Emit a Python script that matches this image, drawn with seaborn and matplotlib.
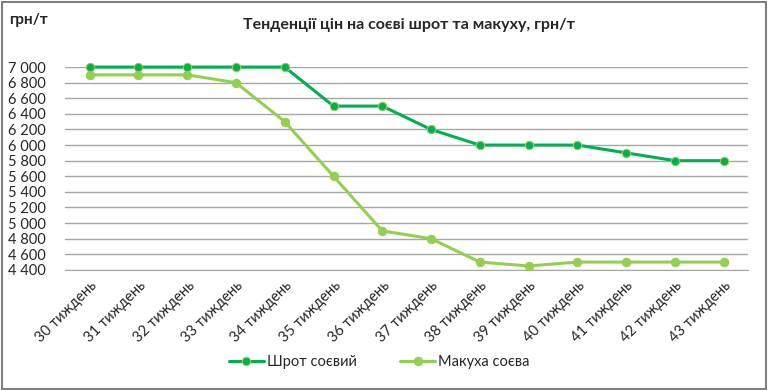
import numpy as np
import pandas as pd
import matplotlib.pyplot as plt
import seaborn as sns
from matplotlib.ticker import FuncFormatter

weeks = [f"{w} тиждень" for w in range(30, 44)]
shrot = [7000, 7000, 7000, 7000, 7000, 6500, 6500, 6200, 6000, 6000, 6000, 5900, 5800, 5800]
makukha = [6900, 6900, 6900, 6800, 6300, 5600, 4900, 4800, 4500, 4450, 4500, 4500, 4500, 4500]
series_names = ["Шрот соєвий", "Макуха соєва"]
yticks = list(range(4400, 7001, 200))

df = pd.DataFrame({
    "week": weeks * 2,
    "price": shrot + makukha,
    "series": [series_names[0]] * len(weeks) + [series_names[1]] * len(weeks),
})

sns.set_style("white")
plt.rcParams['font.family'] = ['Lato', 'DejaVu Sans']

fig = plt.figure(figsize=(7.68, 3.9), dpi=100)
ax = fig.add_axes([0.085, 0.308, 0.889, 0.52])

colors = {"Шрот соєвий": "#00B050", "Макуха соєва": "#92D050"}
zorders = {"Шрот соєвий": 4, "Макуха соєва": 3}
for name in series_names:
    sub = df[df.series == name]
    sns.lineplot(data=sub, x="week", y="price", ax=ax, color=colors[name],
                 linewidth=2.2, marker="o", markersize=6,
                 markerfacecolor=colors[name], markeredgecolor="#92D050",
                 markeredgewidth=0.8, label=name, sort=False, zorder=zorders[name])
for ln in ax.get_lines():
    ln.set_clip_on(False)

ax.set_xlim(-0.5, len(weeks) - 0.5)
ax.set_ylim(4400, 7000)
ax.set_yticks(yticks)
ax.yaxis.set_major_formatter(FuncFormatter(lambda v, p: f"{int(v):,}".replace(",", " ")))
ax.grid(axis="y", color="#a6a6a6", linewidth=1)
ax.set_axisbelow(True)
for s in ["top", "right", "left"]:
    ax.spines[s].set_visible(False)
ax.spines["bottom"].set_color("#a6a6a6")
ax.tick_params(axis="y", length=0, labelsize=10.5, pad=14)
ax.tick_params(axis="x", length=0, labelsize=10.5, pad=6)
ax.set_xticks(range(len(weeks)))
ax.set_xticklabels(weeks, rotation=45, ha="right", rotation_mode="anchor")
ax.set_xlabel("")
ax.set_ylabel("")

ax.legend(loc="center", bbox_to_anchor=(0.46, -0.453), ncol=2, frameon=False,
          fontsize=10.5, handlelength=2.4, columnspacing=3.0, handletextpad=0.2)

fig.text(0.533, 0.936, "Тенденції цін на соєві шрот та макуху, грн/т",
         ha="center", va="center", fontsize=11.5, fontweight="bold")
fig.text(0.012, 0.949, "грн/т", ha="left", va="center", fontsize=11, fontweight="bold")

border = plt.Rectangle((0.002, 0.003), 0.995, 0.993, transform=fig.transFigure,
                       fill=False, edgecolor="#7f7f7f", linewidth=1.5)
fig.patches.append(border)

fig.savefig("out.png", dpi=100)
